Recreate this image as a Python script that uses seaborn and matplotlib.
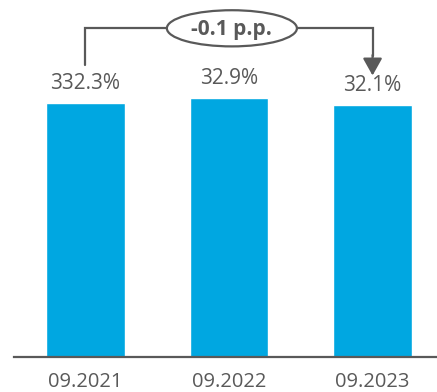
import matplotlib
matplotlib.use("Agg")
import matplotlib.pyplot as plt
from matplotlib.patches import Ellipse
import seaborn as sns
import pandas as pd

# Data
periods = ["09.2021", "09.2022", "09.2023"]
ratio_values = [32.3, 32.9, 32.1]
value_labels = ["332.3%", "32.9%", "32.1%"]
change_label = "-0.1 p.p."

BAR_COLOR = "#00A7E1"
INK = "#595959"

sns.set_theme(style="white")
plt.rcParams["font.family"] = ["Open Sans", "DejaVu Sans"]

df = pd.DataFrame({"period": periods, "ratio": ratio_values})

fig = plt.figure(figsize=(4.37, 3.92), dpi=100)
ax = fig.add_axes([14 / 437, 35 / 392, 1 - 14 / 437, 1 - 35 / 392])

sns.barplot(data=df, x="period", y="ratio", color=BAR_COLOR, width=0.55,
            saturation=1, ax=ax)

ax.set_xlim(-0.498, 2.449)
ax.set_ylim(0, 45.4)

# Value labels above bars
for i, (v, lab) in enumerate(zip(ratio_values, value_labels)):
    ax.annotate(lab, xy=(i, v), xytext=(0, 6.5), textcoords="offset points",
                ha="center", va="bottom", fontsize=15, color=INK)

# Axes styling
for side in ["left", "right", "top"]:
    ax.spines[side].set_visible(False)
ax.spines["bottom"].set_color(INK)
ax.spines["bottom"].set_linewidth(1.6)
ax.set_yticks([])
ax.set_xlabel("")
ax.set_ylabel("")
ax.tick_params(axis="x", length=0, pad=11, labelsize=14.5, labelcolor=INK)

# Change bracket from first to last period
y_top = 41.8
ell_x, ell_w, ell_h = 1.02, 0.906, 4.6
ax.plot([0, 0, ell_x - ell_w / 2], [37.1, y_top, y_top], color=INK, lw=1.6,
        solid_joinstyle="miter", clip_on=False)
ax.plot([ell_x + ell_w / 2, 2, 2], [y_top, y_top, 38.3], color=INK, lw=1.6,
        solid_joinstyle="miter", clip_on=False)
ax.annotate("", xy=(2, 35.8), xytext=(2, 38.4),
            arrowprops=dict(arrowstyle="-|>,head_length=0.75,head_width=0.42",
                            color=INK, lw=1.6, shrinkA=0, shrinkB=0,
                            mutation_scale=14))
ax.add_patch(Ellipse((ell_x, y_top), ell_w, ell_h, facecolor="white",
                     edgecolor=INK, lw=1.6, clip_on=False, zorder=3))
ax.text(ell_x, y_top - 0.1, change_label, ha="center", va="center",
        fontsize=15, fontweight="bold", color=INK, zorder=4)

fig.savefig("out.png", dpi=100)
